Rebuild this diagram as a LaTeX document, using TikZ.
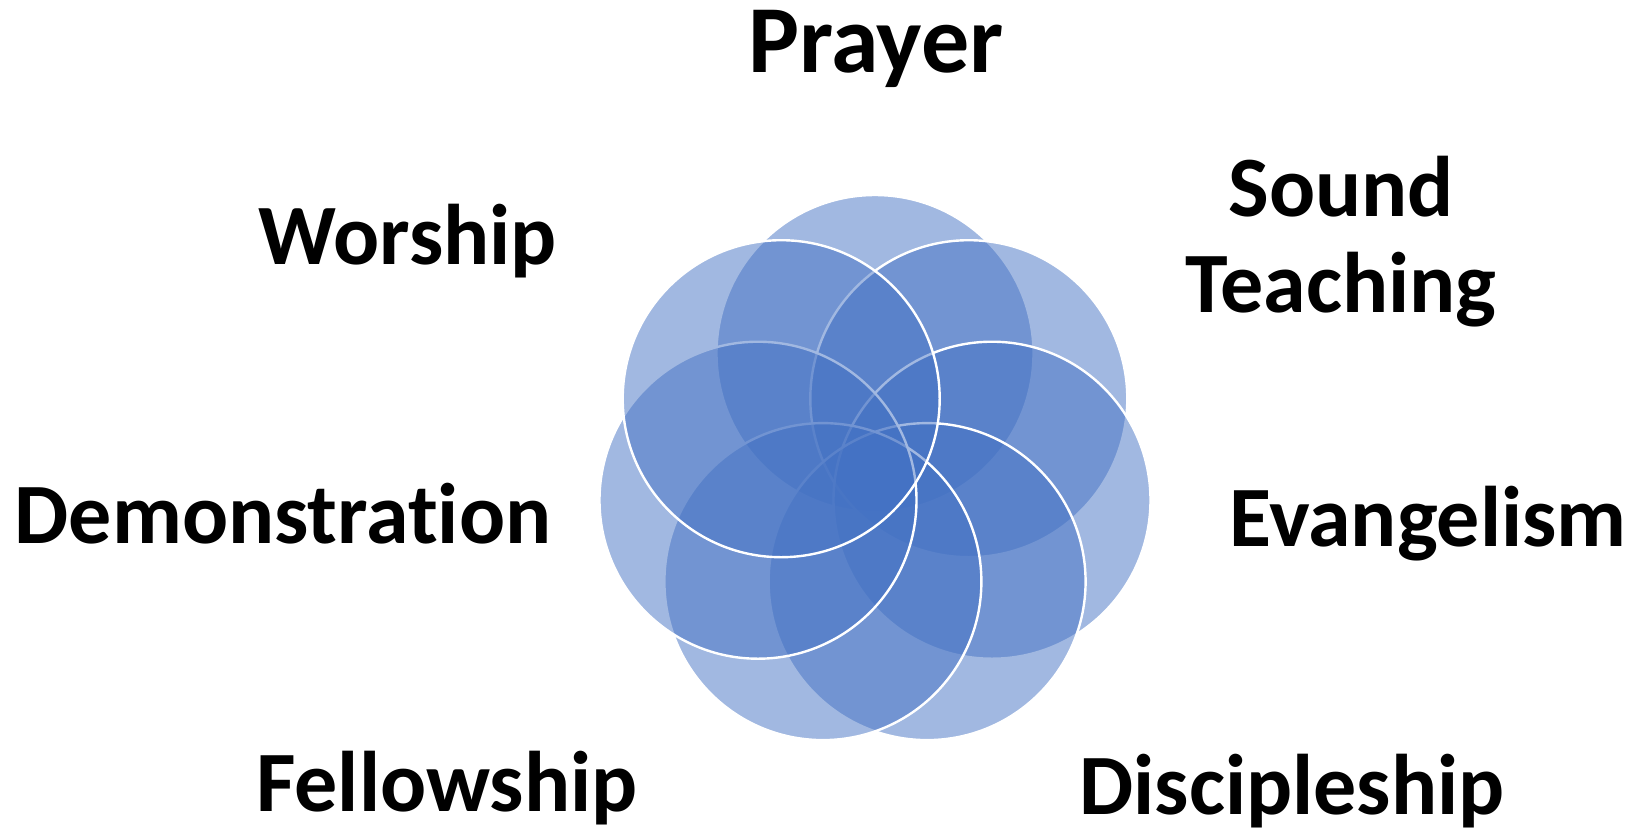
\documentclass[tikz,border=0pt]{standalone}
\usepackage{fontspec}
\setmainfont{Carlito}[Ligatures=NoCommon]
\definecolor{petalblue}{HTML}{4472C4}
\begin{document}
\begin{tikzpicture}[x=0.5pt,y=-0.5pt,
  petal/.style={fill=petalblue, fill opacity=0.5, draw=white, draw opacity=1, line width=1.2pt},
  lbl/.style={font=\fontsize{43}{48}\selectfont\bfseries, inner sep=0pt, anchor=base, align=center}]
\useasboundingbox[fill=white] (0,0) rectangle (1630,832);
% circle centres
\coordinate (cPrayer) at (875,353.5);
\coordinate (cSound) at (968.8,398.7);
\coordinate (cEvang) at (992.0,500.2);
\coordinate (cDisc) at (927.1,581.6);
\coordinate (cFell) at (822.9,581.6);
\coordinate (cDemo) at (758.0,500.2);
\coordinate (cWorship) at (781.2,398.7);
\foreach \c in {cPrayer,cSound,cEvang,cDisc,cFell,cDemo,cWorship}
  \path[petal] (\c) circle[radius=158.5];
% labels
\node[lbl, font=\fontsize{48}{52}\selectfont\bfseries] (prayer) at (876,72) {Prayer};
\node[lbl] (worship) at (408,264) {Worship};
\node[lbl] (sound) at (1341,312) {Sound\\Teaching};
\node[lbl] (demo) at (283,543) {Demonstration};
\node[lbl] (evang) at (1428,546) {Evangelism};
\node[lbl] (fell) at (447,811) {Fellowship};
\node[lbl] (disc) at (1292,814) {Discipleship};
\end{tikzpicture}
\end{document}
